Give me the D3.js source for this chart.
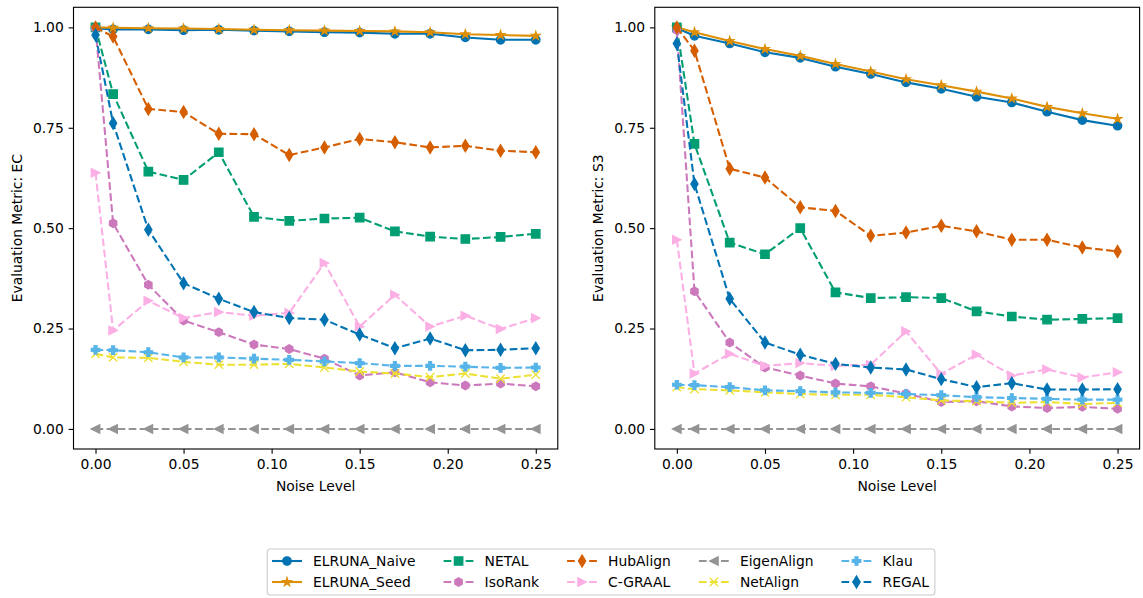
<!DOCTYPE html>
<html>
<head>
<meta charset="utf-8">
<script src="https://cdn.jsdelivr.net/npm/d3@7"></script>
<style>
  html, body { margin: 0; padding: 0; background: #fff; }
  svg { display: block; font-family: "DejaVu Sans", sans-serif; }
</style>
</head>
<body>
<svg id="chart" width="1143" height="598"></svg>
<script>
// ---------------- DATA ----------------
const noiseLevels = [0.00, 0.01, 0.03, 0.05, 0.07, 0.09, 0.11, 0.13, 0.15, 0.17, 0.19, 0.21, 0.23, 0.25];
const xTicks = [0.00, 0.05, 0.10, 0.15, 0.20, 0.25];
const yTicks = [0.00, 0.25, 0.50, 0.75, 1.00];
const methodNames = ["ELRUNA_Naive", "ELRUNA_Seed", "NETAL", "IsoRank", "HubAlign", "C-GRAAL", "EigenAlign", "NetAlign", "Klau", "REGAL"];
const panelLabels = ["Evaluation Metric: EC", "Evaluation Metric: S3"];

// EC metric
const ecNaive    = [0.998, 0.995, 0.995, 0.993, 0.994, 0.992, 0.990, 0.988, 0.987, 0.984, 0.984, 0.975, 0.969, 0.969];
const ecSeed     = [1.000, 0.999, 0.998, 0.997, 0.996, 0.994, 0.993, 0.992, 0.991, 0.990, 0.988, 0.983, 0.981, 0.979];
const ecNetal    = [1.000, 0.834, 0.641, 0.620, 0.689, 0.528, 0.518, 0.524, 0.526, 0.492, 0.479, 0.473, 0.478, 0.486];
const ecIsoRank  = [0.998, 0.512, 0.359, 0.270, 0.241, 0.210, 0.199, 0.175, 0.133, 0.141, 0.116, 0.108, 0.113, 0.106];
const ecHubAlign = [1.000, 0.977, 0.797, 0.789, 0.735, 0.734, 0.682, 0.701, 0.722, 0.714, 0.701, 0.705, 0.693, 0.689];
const ecCGraal   = [0.638, 0.245, 0.319, 0.276, 0.291, 0.282, 0.289, 0.413, 0.255, 0.334, 0.255, 0.282, 0.249, 0.276];
const ecEigen    = [0.000, 0.000, 0.000, 0.000, 0.000, 0.000, 0.000, 0.000, 0.000, 0.000, 0.000, 0.000, 0.000, 0.000];
const ecNetAlign = [0.187, 0.178, 0.177, 0.167, 0.160, 0.160, 0.162, 0.153, 0.143, 0.138, 0.129, 0.138, 0.125, 0.135];
const ecKlau     = [0.197, 0.196, 0.191, 0.178, 0.178, 0.175, 0.172, 0.168, 0.164, 0.157, 0.157, 0.155, 0.152, 0.153];
const ecRegal    = [0.981, 0.761, 0.496, 0.363, 0.324, 0.291, 0.276, 0.272, 0.235, 0.201, 0.225, 0.196, 0.197, 0.201];

// S3 metric
const s3Naive    = [0.998, 0.979, 0.960, 0.938, 0.924, 0.902, 0.884, 0.863, 0.847, 0.827, 0.813, 0.790, 0.769, 0.755];
const s3Seed     = [1.000, 0.988, 0.966, 0.946, 0.929, 0.909, 0.890, 0.871, 0.856, 0.840, 0.823, 0.802, 0.786, 0.772];
const s3Netal    = [1.000, 0.710, 0.464, 0.435, 0.500, 0.340, 0.326, 0.328, 0.326, 0.293, 0.280, 0.272, 0.274, 0.276];
const s3IsoRank  = [0.993, 0.343, 0.215, 0.153, 0.133, 0.113, 0.106, 0.088, 0.067, 0.069, 0.056, 0.052, 0.055, 0.050];
const s3HubAlign = [1.000, 0.942, 0.648, 0.626, 0.552, 0.543, 0.481, 0.489, 0.506, 0.492, 0.471, 0.471, 0.452, 0.442];
const s3CGraal   = [0.471, 0.138, 0.187, 0.157, 0.164, 0.157, 0.160, 0.243, 0.137, 0.185, 0.133, 0.148, 0.128, 0.141];
const s3Eigen    = [0.000, 0.000, 0.000, 0.000, 0.000, 0.000, 0.000, 0.000, 0.000, 0.000, 0.000, 0.000, 0.000, 0.000];
const s3NetAlign = [0.104, 0.099, 0.096, 0.091, 0.087, 0.085, 0.085, 0.079, 0.071, 0.069, 0.065, 0.067, 0.062, 0.065];
const s3Klau     = [0.110, 0.109, 0.104, 0.096, 0.094, 0.091, 0.090, 0.087, 0.084, 0.079, 0.077, 0.075, 0.073, 0.073];
const s3Regal    = [0.960, 0.610, 0.324, 0.215, 0.185, 0.162, 0.153, 0.148, 0.124, 0.104, 0.114, 0.098, 0.098, 0.099];

// ---------------- STYLE ----------------
const colors = ["#0173b2", "#de8f05", "#029e73", "#cc78bc", "#d55e00", "#fbafe4", "#949494", "#ece133", "#56b4e9", "#0173b2"];
const markers = ["circle", "star", "square", "hexagon", "thinDiamond", "triRight", "triLeft", "x", "plus", "thinDiamond"];
const dashed = [false, false, true, true, true, true, true, true, true, true];

const panels = [
  [ecNaive, ecSeed, ecNetal, ecIsoRank, ecHubAlign, ecCGraal, ecEigen, ecNetAlign, ecKlau, ecRegal],
  [s3Naive, s3Seed, s3Netal, s3IsoRank, s3HubAlign, s3CGraal, s3Eigen, s3NetAlign, s3Klau, s3Regal]
];

const PT = 100 / 72;
const MS = 6 * PT;        // marker size
const LW = 1.5 * PT;      // line width
const MEW = 1.0 * PT;     // marker edge width
const DASH = `${3.7 * LW},${1.6 * LW}`;
const FONT = 10 * PT;

function markerPath(type) {
  const h = MS / 2;
  const p = d3.path();
  if (type === "circle") {
    p.arc(0, 0, h, 0, 2 * Math.PI);
  } else if (type === "square") {
    p.rect(-h, -h, MS, MS);
  } else if (type === "star") {
    const ri = h * 0.381966;
    for (let i = 0; i < 10; i++) {
      const r = i % 2 === 0 ? h : ri;
      const a = -Math.PI / 2 + i * Math.PI / 5;
      if (i === 0) p.moveTo(r * Math.cos(a), r * Math.sin(a));
      else p.lineTo(r * Math.cos(a), r * Math.sin(a));
    }
    p.closePath();
  } else if (type === "hexagon") {
    for (let i = 0; i < 6; i++) {
      const a = -Math.PI / 2 + i * Math.PI / 3;
      if (i === 0) p.moveTo(h * Math.cos(a), h * Math.sin(a));
      else p.lineTo(h * Math.cos(a), h * Math.sin(a));
    }
    p.closePath();
  } else if (type === "thinDiamond") {
    const hh = h * Math.SQRT2, hw = hh * 0.6;
    p.moveTo(0, -hh); p.lineTo(hw, 0); p.lineTo(0, hh); p.lineTo(-hw, 0); p.closePath();
  } else if (type === "triRight") {
    p.moveTo(h, 0); p.lineTo(-h, -h); p.lineTo(-h, h); p.closePath();
  } else if (type === "triLeft") {
    p.moveTo(-h, 0); p.lineTo(h, -h); p.lineTo(h, h); p.closePath();
  } else if (type === "x") {
    p.moveTo(-h, -h); p.lineTo(h, h); p.moveTo(-h, h); p.lineTo(h, -h);
  } else if (type === "plus") {
    const a = MS / 6;
    const pts = [[-a,-h],[a,-h],[a,-a],[h,-a],[h,a],[a,a],[a,h],[-a,h],[-a,a],[-h,a],[-h,-a],[-a,-a]];
    pts.forEach((q, i) => i === 0 ? p.moveTo(q[0], q[1]) : p.lineTo(q[0], q[1]));
    p.closePath();
  }
  return p.toString();
}

function drawMarker(sel, i) {
  const isX = markers[i] === "x";
  sel.append("path")
    .attr("d", markerPath(markers[i]))
    .attr("fill", isX ? "none" : colors[i])
    .attr("stroke", colors[i])
    .attr("stroke-width", MEW)
    .attr("stroke-linejoin", "miter");
}

// ---------------- LAYOUT ----------------
const svg = d3.select("#chart");
const panelBoxes = [
  { left: 73.5, right: 557.8 },
  { left: 654.8, right: 1139.6 }
];
const plotTop = 7.3, plotBottom = 449;

panelBoxes.forEach((box, pi) => {
  const x = d3.scaleLinear().domain([-0.0125, 0.2625]).range([box.left, box.right]);
  const y = d3.scaleLinear().domain([-0.05, 1.05]).range([plotBottom, plotTop]);
  const g = svg.append("g");

  const clipId = "clip" + pi;
  g.append("clipPath").attr("id", clipId).append("rect")
    .attr("x", box.left).attr("y", plotTop).attr("width", box.right - box.left).attr("height", plotBottom - plotTop);

  const plot = g.append("g").attr("clip-path", `url(#${clipId})`);
  const line = d3.line().x((d, k) => x(noiseLevels[k])).y(d => y(d));

  panels[pi].forEach((vals, i) => {
    const sg = plot.append("g");
    sg.append("path")
      .attr("d", line(vals))
      .attr("fill", "none")
      .attr("stroke", colors[i])
      .attr("stroke-width", LW)
      .attr("stroke-linejoin", "round")
      .attr("stroke-linecap", dashed[i] ? "butt" : "square")
      .attr("stroke-dasharray", dashed[i] ? DASH : null);
    vals.forEach((v, k) => {
      const mg = sg.append("g").attr("transform", `translate(${x(noiseLevels[k])},${y(v)})`);
      drawMarker(mg, i);
    });
  });

  // axes
  const xAxis = d3.axisBottom(x).tickValues(xTicks).tickFormat(d3.format(".2f")).tickSize(3.5 * PT).tickPadding(3.5 * PT);
  const yAxis = d3.axisLeft(y).tickValues(yTicks).tickFormat(d3.format(".2f")).tickSize(3.5 * PT).tickPadding(3.5 * PT);

  const gx = g.append("g").attr("transform", `translate(0,${plotBottom})`).call(xAxis);
  const gy = g.append("g").attr("transform", `translate(${box.left},0)`).call(yAxis);
  [gx, gy].forEach(a => {
    a.select(".domain").remove();
    a.selectAll(".tick line").attr("stroke", "#000").attr("stroke-width", 0.8 * PT);
    a.selectAll(".tick text").attr("fill", "#000").style("font-size", FONT + "px").style("font-family", "DejaVu Sans");
  });

  // frame
  g.append("rect")
    .attr("x", box.left).attr("y", plotTop)
    .attr("width", box.right - box.left).attr("height", plotBottom - plotTop)
    .attr("fill", "none").attr("stroke", "#000").attr("stroke-width", 0.8 * PT);

  // labels
  g.append("text")
    .attr("x", (box.left + box.right) / 2).attr("y", 491)
    .attr("text-anchor", "middle").style("font-size", FONT + "px")
    .text("Noise Level");
  const ylx = pi === 0 ? 22 : 603;
  g.append("text")
    .attr("transform", `translate(${ylx},${(plotTop + plotBottom) / 2}) rotate(-90)`)
    .attr("text-anchor", "middle").style("font-size", FONT + "px")
    .text(panelLabels[pi]);
});

// ---------------- LEGEND ----------------
const legend = svg.append("g");
const legBox = legend.append("rect");
const handleLen = 30, handlePad = 11, colSpacing = 28, rowY = [561, 582];
const nCols = 5;
let colX = 272;
const items = legend.append("g");
for (let c = 0; c < nCols; c++) {
  let maxW = 0;
  for (let r = 0; r < 2; r++) {
    const i = c * 2 + r;
    const ig = items.append("g").attr("transform", `translate(${colX},${rowY[r]})`);
    ig.append("line")
      .attr("x1", 0).attr("x2", handleLen).attr("y1", 0).attr("y2", 0)
      .attr("stroke", colors[i]).attr("stroke-width", LW)
      .attr("stroke-dasharray", dashed[i] ? DASH : null);
    drawMarker(ig.append("g").attr("transform", `translate(${handleLen / 2},0)`), i);
    const t = ig.append("text")
      .attr("x", handleLen + handlePad).attr("y", 0).attr("dy", "0.36em")
      .style("font-size", FONT + "px").text(methodNames[i]);
    maxW = Math.max(maxW, t.node().getComputedTextLength());
  }
  colX += handleLen + handlePad + maxW + colSpacing;
}
const legRight = colX - colSpacing + 6;
legBox.attr("x", 267.3).attr("y", 549).attr("width", legRight - 267.3).attr("height", 46)
  .attr("rx", 3).attr("fill", "#fff").attr("fill-opacity", 0.8)
  .attr("stroke", "#cccccc").attr("stroke-width", 0.8 * PT);
</script>
</body>
</html>
